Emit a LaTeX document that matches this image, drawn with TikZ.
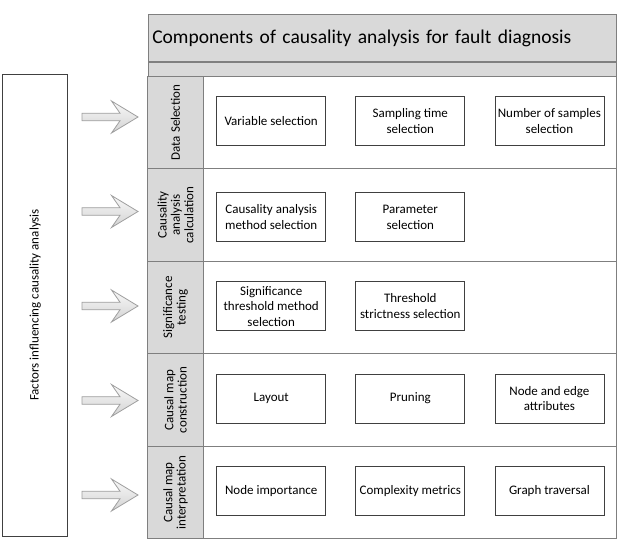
\documentclass[tikz,border=0pt]{standalone}
\usepackage{fontspec}
\setmainfont{Carlito}
\definecolor{BandGray}{HTML}{D9D9D9}
\definecolor{FrameGray}{HTML}{7F7F7F}
\definecolor{BoxLine}{HTML}{404040}
\usetikzlibrary{positioning}

\begin{document}
\begin{tikzpicture}[x=1pt, y=-1pt,
      band/.style={rectangle, draw=FrameGray, fill=BandGray, line width=0.9pt,
        minimum width=468.3pt, inner sep=0pt},
      lab/.style={rotate=90, font=\fontsize{13}{13.3}\selectfont, align=center, inner sep=0pt},
      c/.style={rectangle, draw=BoxLine, fill=white, line width=0.8pt,
        minimum width=109pt, minimum height=49pt, inner sep=1pt,
        font=\fontsize{13}{15.5}\selectfont, align=center},
      barrow/.style={draw=gray!75, line width=0.8pt, top color=gray!5, bottom color=gray!35}]
      \useasboundingbox (0,0) rectangle (621,544);
      % title band and the empty strip under it
      \node[band, minimum height=46.7pt, anchor=north west, text width=460pt, align=left,
        inner xsep=4pt, font=\fontsize{19.5}{22}\selectfont] (title) at (147.7,14.3)
        {Components of causality analysis for fault diagnosis};
      \node[band, minimum height=15.7pt, below=0pt of title] (strip) {};
      % rows with grey label column
      \foreach \t/\b in {76.7/168.3, 168.3/261.7, 261.7/353.3, 353.3/446.7, 446.7/538.3} {
        \draw[FrameGray, line width=0.9pt, fill=white] (147.7,\t) rectangle (616,\b);
        \draw[FrameGray, line width=0.9pt, fill=BandGray] (147.7,\t) rectangle (203.3,\b);
      }
      \node[lab] (l1) at (175.5,122.5) {Data Selection};
      \node[lab] (l2) at (175.5,215) {Causality\\analysis\\calculation};
      \node[lab] (l3) at (175.5,307.5) {Significance\\testing};
      \node[lab] (l4) at (175.5,400) {Causal map\\construction};
      \node[lab] (l5) at (175.5,492.5) {Causal map\\interpretation};
      % component boxes
      \node[c] (v1) at (271.2,121.2) {Variable selection};
      \node[c, right=29.3pt of v1] (v2) {Sampling time\\selection};
      \node[c, right=29.3pt of v2] (v3) {Number of samples\\selection};
      \node[c] (m1) at (271.2,217.2) {Causality analysis\\method selection};
      \node[c, right=29.3pt of m1] (m2) {Parameter\\selection};
      \node[c] (t1) at (271.2,306.2) {Significance\\threshold method\\selection};
      \node[c, right=29.3pt of t1] (t2) {Threshold\\strictness selection};
      \node[c] (g1) at (271.2,398.5) {Layout};
      \node[c, right=29.3pt of g1] (g2) {Pruning};
      \node[c, right=29.3pt of g2] (g3) {Node and edge\\attributes};
      \node[c] (i1) at (271.2,491) {Node importance};
      \node[c, right=29.3pt of i1] (i2) {Complexity metrics};
      \node[c, right=29.3pt of i2] (i3) {Graph traversal};
      % factors box on the left
      \node[draw=BoxLine, line width=0.8pt, rotate=90, minimum width=462pt, minimum height=65pt,
        font=\fontsize{13}{15}\selectfont] (factors) at (35.2,305) {Factors influencing causality analysis};
      % block arrows towards the rows
      \foreach \y in {117,211.5,306,400.5,495}
        \draw[barrow] (82,\y-3.8) -- (120,\y-3.8) -- (111.5,\y-16) -- (138,\y)
          -- (111.5,\y+16) -- (120,\y+3.8) -- (82,\y+3.8) -- cycle;
    \end{tikzpicture}
\end{document}
